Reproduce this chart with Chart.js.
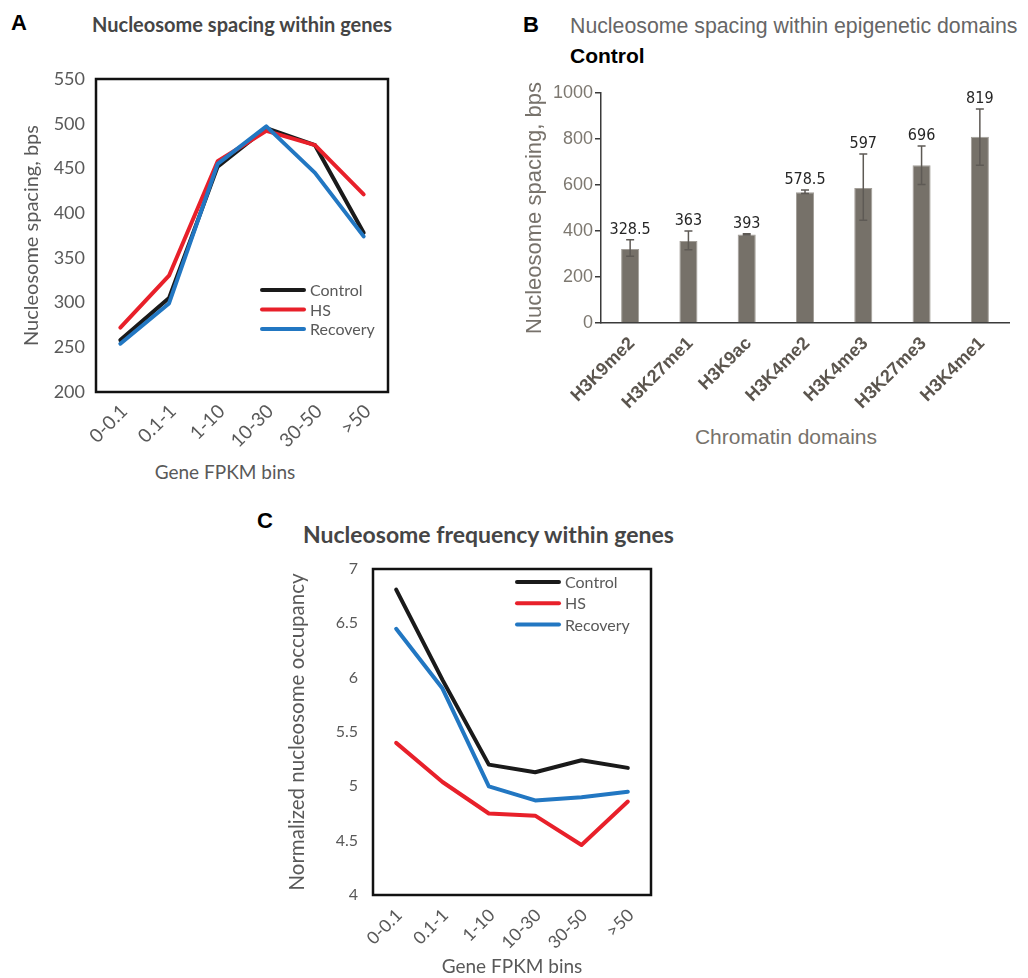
<!DOCTYPE html>
<html>
<head>
<meta charset="UTF-8">
<title>Nucleosome spacing and frequency</title>
<script src="https://cdn.jsdelivr.net/npm/chart.js"></script>
<style>
  body { margin: 0; background: #fff; }
  #page { position: relative; width: 1028px; height: 978px; overflow: hidden; background: #fff; }
  .cv { position: absolute; }
  .txt { position: absolute; white-space: nowrap; line-height: 1; }
</style>
</head>
<body>
<div id="page">
  <div class="txt" style="left:11px;top:10px;font:bold 22px 'Liberation Sans';color:#000">A</div>
  <div class="txt" style="left:92px;top:12px;font:bold 20px Lato;color:#454545">Nucleosome spacing within genes</div>
  <div class="txt" style="left:225px;top:460px;transform:translateX(-50%);font:19px Lato;color:#595959">Gene FPKM bins</div>

  <div class="txt" style="left:523px;top:12px;font:bold 22px 'Liberation Sans';color:#000">B</div>
  <div class="txt" style="left:570px;top:14px;font:21.3px 'Liberation Sans';color:#666">Nucleosome spacing within epigenetic domains</div>
  <div class="txt" style="left:570px;top:44px;font:bold 21px 'Liberation Sans';color:#000">Control</div>
  <div class="txt" style="left:786px;top:425px;transform:translateX(-50%);font:21px 'Liberation Sans';color:#77726b">Chromatin domains</div>

  <div class="txt" style="left:257px;top:508px;font:bold 22px 'Liberation Sans';color:#000">C</div>
  <div class="txt" style="left:303px;top:520px;font:bold 23px Lato;color:#454545">Nucleosome frequency within genes</div>

  <canvas id="chartA" class="cv" width="400" height="433" style="left:0px;top:57px;width:400px;height:433px"></canvas>
  <canvas id="chartB" class="cv" width="508" height="340" style="left:520px;top:80px;width:508px;height:340px"></canvas>
  <canvas id="chartC" class="cv" width="390" height="434" style="left:280px;top:544px;width:390px;height:434px"></canvas>
</div>

<script>
  // ---- data ----
  var fpkmBins = ['0-0.1', '0.1-1', '1-10', '10-30', '30-50', '>50'];

  var spacingControl  = [258, 305, 452, 495, 476, 378];
  var spacingHS       = [272, 330, 458, 492, 476, 421];
  var spacingRecovery = [254, 299, 455, 497, 445, 374];
  var spacingTicks    = [200, 250, 300, 350, 400, 450, 500, 550];

  var domains       = ['H3K9me2', 'H3K27me1', 'H3K9ac', 'H3K4me2', 'H3K4me3', 'H3K27me3', 'H3K4me1'];
  var domainSpacing = [322, 356, 385, 568, 587, 686, 810];
  var domainErrLow  = [290, 318, 383, 563, 447, 602, 686];
  var domainErrHigh = [362, 400, 388, 578, 735, 770, 930];
  var domainLabels  = ['328.5', '363', '393', '578.5', '597', '696', '819'];
  var domainTicks   = [0, 200, 400, 600, 800, 1000];

  var occControl  = [6.81, 5.98, 5.2, 5.13, 5.24, 5.17];
  var occHS       = [5.4, 5.04, 4.75, 4.73, 4.46, 4.86];
  var occRecovery = [6.45, 5.9, 5.0, 4.87, 4.9, 4.95];
  var occTicks    = [4, 4.5, 5, 5.5, 6, 6.5, 7];

  var BLACK = '#1a1a1a', RED = '#e8202a', BLUE = '#2277c2';
  var GREY_TXT = '#595959';

  Chart.defaults.animation = false;

  // box round the plot area (panels A and C)
  var boxPlugin = {
    id: 'box',
    beforeDatasetsDraw: function(chart) {
      var a = chart.chartArea, c = chart.ctx;
      c.save();
      c.strokeStyle = '#111';
      c.lineWidth = 2.5;
      c.strokeRect(a.left, a.top, a.right - a.left, a.bottom - a.top);
      c.restore();
    }
  };

  // legend drawn inside the plot
  var lineLegend = {
    id: 'lineLegend',
    afterDraw: function(chart, args, opts) {
      var c = chart.ctx;
      c.save();
      chart.data.datasets.forEach(function(ds, i) {
        var y = opts.y + i * opts.gap;
        c.strokeStyle = ds.borderColor;
        c.lineWidth = 4;
        c.lineCap = 'round';
        c.beginPath();
        c.moveTo(opts.x, y);
        c.lineTo(opts.x + opts.len, y);
        c.stroke();
        c.fillStyle = GREY_TXT;
        c.font = opts.font;
        c.textBaseline = 'middle';
        c.fillText(ds.label, opts.x + opts.len + 6, y + 1);
      });
      c.restore();
    }
  };

  // error bars + value labels for panel B
  var errorBars = {
    id: 'errorBars',
    afterDatasetsDraw: function(chart) {
      var c = chart.ctx, y = chart.scales.y;
      var bars = chart.getDatasetMeta(0).data;
      c.save();
      bars.forEach(function(bar, i) {
        var hi = y.getPixelForValue(domainErrHigh[i]);
        var lo = y.getPixelForValue(domainErrLow[i]);
        c.strokeStyle = '#5e5a55';
        c.lineWidth = 1.5;
        c.beginPath();
        c.moveTo(bar.x, lo); c.lineTo(bar.x, hi);
        c.moveTo(bar.x - 4, hi); c.lineTo(bar.x + 4, hi);
        c.moveTo(bar.x - 4, lo); c.lineTo(bar.x + 4, lo);
        c.stroke();
        c.fillStyle = '#262626';
        c.font = "16px 'Liberation Sans Narrow', 'DejaVu Sans Condensed', sans-serif";
        c.textAlign = 'center';
        c.textBaseline = 'alphabetic';
        c.fillText(domainLabels[i], bar.x, Math.min(hi, bar.y) - 6);
      });
      c.restore();
    }
  };

  function fixWidth(w) { return function(s) { s.width = w; }; }
  function fixHeight(h) { return function(s) { s.height = h; }; }
  function setTicks(list) { return function(s) { s.ticks = list.map(function(v) { return { value: v }; }); }; }
  function plain(v) { return String(v); }

  function lineSet(label, data, color, order) {
    return { label: label, data: data, borderColor: color, backgroundColor: color,
             borderWidth: 4, pointRadius: 0, tension: 0, borderJoinStyle: 'round',
             borderCapStyle: 'round', order: order };
  }

  // ---- panel A ----
  new Chart(document.getElementById('chartA'), {
    type: 'line',
    data: {
      labels: fpkmBins,
      datasets: [
        lineSet('Control', spacingControl, BLACK, 2),
        lineSet('HS', spacingHS, RED, 1),
        lineSet('Recovery', spacingRecovery, BLUE, 0)
      ]
    },
    options: {
      responsive: false,
      layout: { padding: { left: 0, right: 12, top: 22, bottom: 0 } },
      plugins: {
        legend: { display: false },
        tooltip: { enabled: false },
        lineLegend: { x: 262, y: 233, gap: 19.5, len: 42, font: '16px Lato' }
      },
      scales: {
        x: {
          offset: true,
          grid: { display: false, drawTicks: false },
          border: { display: false },
          ticks: { color: GREY_TXT, font: { family: 'Lato', size: 19 }, minRotation: 45, maxRotation: 45,
                   padding: 8, labelOffset: 4 },
          afterFit: fixHeight(98)
        },
        y: {
          min: 200, max: 550,
          afterBuildTicks: setTicks(spacingTicks),
          grid: { display: false, drawTicks: false },
          border: { display: false },
          ticks: { color: GREY_TXT, font: { family: 'Lato', size: 18 }, padding: 11, callback: plain },
          title: { display: true, text: 'Nucleosome spacing, bps', color: GREY_TXT,
                   font: { family: 'Lato', size: 20 }, padding: { top: 20, bottom: 0 } },
          afterFit: fixWidth(96)
        }
      }
    },
    plugins: [boxPlugin, lineLegend]
  });

  // ---- panel B ----
  new Chart(document.getElementById('chartB'), {
    type: 'bar',
    data: {
      labels: domains,
      datasets: [{
        label: 'Control',
        data: domainSpacing,
        backgroundColor: '#767169',
        borderColor: '#a29e98',
        borderWidth: 1,
        barPercentage: 0.31,
        categoryPercentage: 1
      }]
    },
    options: {
      responsive: false,
      layout: { padding: { left: 0, right: 19, top: 13, bottom: 0 } },
      plugins: { legend: { display: false }, tooltip: { enabled: false } },
      scales: {
        x: {
          grid: { display: false, drawTicks: false },
          border: { display: true, color: '#3a3a3a', width: 1.5 },
          ticks: { color: '#5b554e', font: { family: 'Liberation Sans', size: 18, weight: 'bold' },
                   minRotation: 45, maxRotation: 45, padding: 10, labelOffset: 2 },
          afterFit: fixHeight(97)
        },
        y: {
          min: 0, max: 1000,
          afterBuildTicks: setTicks(domainTicks),
          grid: { display: true, drawOnChartArea: false, drawTicks: true, tickLength: 6, color: '#3a3a3a', lineWidth: 1.5 },
          border: { display: true, color: '#3a3a3a', width: 1.5 },
          ticks: { color: '#7d7870', font: { family: 'Liberation Sans', size: 18 }, padding: 2, callback: plain },
          title: { display: true, text: 'Nucleosome spacing, bps', color: '#77726b',
                   font: { family: 'Liberation Sans', size: 22 }, padding: { top: 2, bottom: 0 } },
          afterFit: fixWidth(81)
        }
      }
    },
    plugins: [errorBars]
  });

  // ---- panel C ----
  new Chart(document.getElementById('chartC'), {
    type: 'line',
    data: {
      labels: fpkmBins,
      datasets: [
        lineSet('Control', occControl, BLACK, 2),
        lineSet('HS', occHS, RED, 1),
        lineSet('Recovery', occRecovery, BLUE, 0)
      ]
    },
    options: {
      responsive: false,
      layout: { padding: { left: 0, right: 19, top: 25, bottom: 0 } },
      plugins: {
        legend: { display: false },
        tooltip: { enabled: false },
        lineLegend: { x: 237, y: 38, gap: 21.3, len: 42, font: '16px Lato' }
      },
      scales: {
        x: {
          offset: true,
          grid: { display: false, drawTicks: false },
          border: { display: false },
          ticks: { color: GREY_TXT, font: { family: 'Lato', size: 17.5 }, minRotation: 45, maxRotation: 45,
                   padding: 10, labelOffset: 3 },
          title: { display: true, text: 'Gene FPKM bins', color: GREY_TXT,
                   font: { family: 'Lato', size: 19 }, padding: { top: 0, bottom: 0 } },
          afterFit: fixHeight(83)
        },
        y: {
          min: 4, max: 7,
          afterBuildTicks: setTicks(occTicks),
          grid: { display: false, drawTicks: false },
          border: { display: false },
          ticks: { color: GREY_TXT, font: { family: 'Lato', size: 16 }, padding: 15, callback: plain },
          title: { display: true, text: 'Normalized nucleosome occupancy', color: GREY_TXT,
                   font: { family: 'Lato', size: 20.5 }, padding: { top: 5, bottom: 0 } },
          afterFit: fixWidth(93)
        }
      }
    },
    plugins: [boxPlugin, lineLegend]
  });
</script>
</body>
</html>
